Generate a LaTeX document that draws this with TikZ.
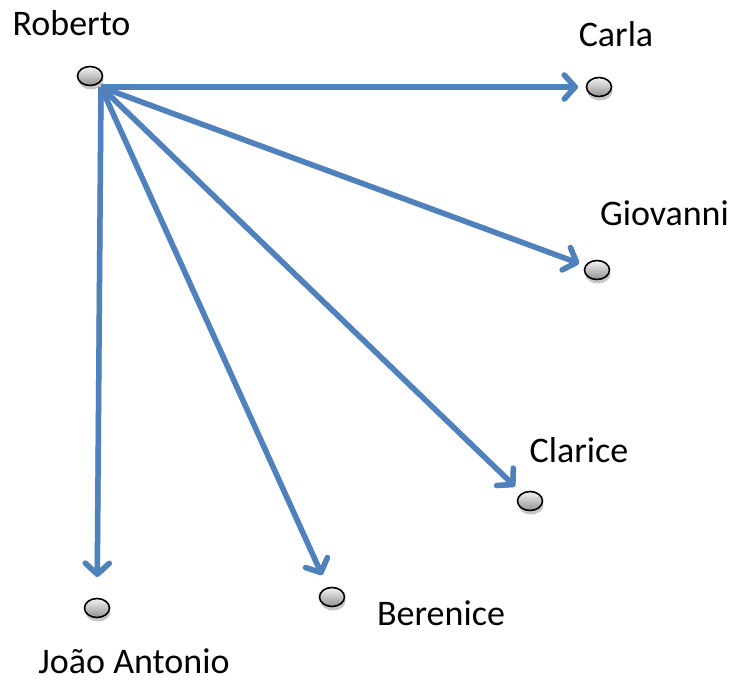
\documentclass[tikz,border=0pt]{standalone}
\usepackage{fontspec}
\setmainfont{Carlito}
\usetikzlibrary{arrows.meta,shadows,shapes.geometric}
\definecolor{linkblue}{HTML}{4F81BD}
\tikzset{
  person/.style={ellipse, draw=black, line width=1.6pt, inner sep=0pt,
    minimum width=25pt, minimum height=19pt,
    top color=gray!10, bottom color=gray!85,
    drop shadow={shadow xshift=1pt, shadow yshift=-4pt, opacity=0.22, fill=black}},
  pname/.style={font=\fontsize{36}{40}\selectfont, inner sep=0pt, anchor=base},
  barb/.style={-{Straight Barb[length=11pt,width=24pt,line cap=round,line join=round]}},
  link/.style={barb, draw=linkblue, line width=5.5pt},
  linkshadow/.style={barb, draw=black!35, line width=5.5pt, opacity=0.6},
}
\begin{document}
\begin{tikzpicture}[x=1pt,y=-1pt]
  \useasboundingbox (0,0) rectangle (734,683);

  % people
  \node[person] (roberto)  at (90,76)   {};
  \node[person] (carla)    at (599,87)  {};
  \node[person] (giovanni) at (597,270) {};
  \node[person] (clarice)  at (530,501) {};
  \node[person] (berenice) at (332,597) {};
  \node[person] (joao)     at (97,608)  {};

  % names, placed on their baselines
  \node[pname] (lroberto)  at (71.5,35) {Roberto};
  \node[pname] (lcarla)    at (616,46)  {Carla};
  \node[pname] (lgiovanni) at (664.5,225) {Giovanni};
  \node[pname] (lclarice)  at (579,462) {Clarice};
  \node[pname] (lberenice) at (441,625) {Berenice};
  \node[pname] (ljoao)     at (134,673) {João Antonio};

  % all links leave from the lower right of Roberto
  \coordinate (src) at (101,87);

  % link shadows
  \begin{scope}[shift={(1.5,2.5)}]
    \draw[linkshadow, shorten >=21pt] (src) -- (carla.center);
    \draw[linkshadow, shorten >=19pt] (src) -- (giovanni.center);
    \draw[linkshadow, shorten >=21pt] (src) -- (clarice.center);
    \draw[linkshadow, shorten >=24pt] (src) -- (berenice.center);
    \draw[linkshadow, shorten >=31pt] (src) -- (joao.center);
  \end{scope}

  % links
  \draw[link, shorten >=21pt] (src) -- (carla.center);
  \draw[link, shorten >=19pt] (src) -- (giovanni.center);
  \draw[link, shorten >=21pt] (src) -- (clarice.center);
  \draw[link, shorten >=24pt] (src) -- (berenice.center);
  \draw[link, shorten >=31pt] (src) -- (joao.center);
\end{tikzpicture}
\end{document}
